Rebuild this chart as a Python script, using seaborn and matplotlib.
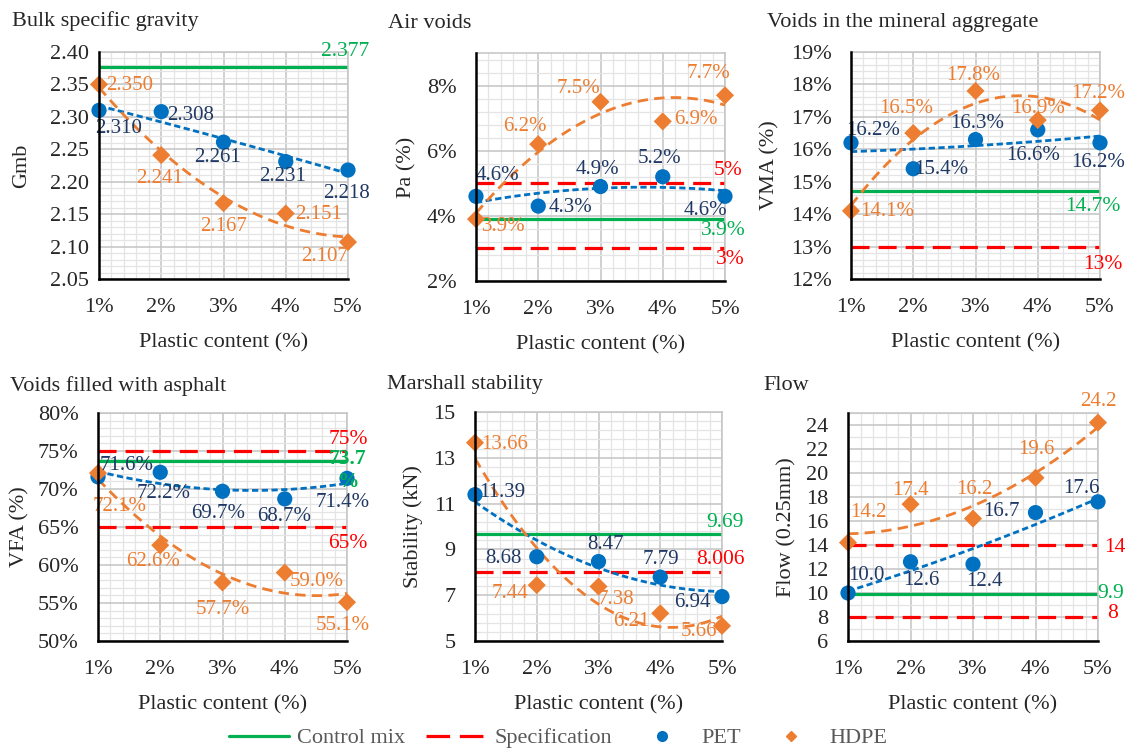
import numpy as np
import matplotlib
matplotlib.use("Agg")
import matplotlib.pyplot as plt
import seaborn as sns
from matplotlib.lines import Line2D
from matplotlib.ticker import FuncFormatter

# ---------------- data ----------------
plastic_content = [1, 2, 3, 4, 5]
x_tick_labels = ["1%", "2%", "3%", "4%", "5%"]

gmb_pet = [2.310, 2.308, 2.261, 2.231, 2.218]
gmb_hdpe = [2.350, 2.241, 2.167, 2.151, 2.107]
gmb_control = 2.377
gmb_spec = []

air_pet = [4.6, 4.3, 4.9, 5.2, 4.6]
air_hdpe = [3.9, 6.2, 7.5, 6.9, 7.7]
air_control = 3.9
air_spec = [5, 3]

vma_pet = [16.2, 15.4, 16.3, 16.6, 16.2]
vma_hdpe = [14.1, 16.5, 17.8, 16.9, 17.2]
vma_control = 14.7
vma_spec = [13]

vfa_pet = [71.6, 72.2, 69.7, 68.7, 71.4]
vfa_hdpe = [72.1, 62.6, 57.7, 59.0, 55.1]
vfa_control = 73.7
vfa_spec = [75, 65]

stab_pet = [11.39, 8.68, 8.47, 7.79, 6.94]
stab_hdpe = [13.66, 7.44, 7.38, 6.21, 5.66]
stab_control = 9.69
stab_spec = [8.006]

flow_pet = [10.0, 12.6, 12.4, 16.7, 17.6]
flow_hdpe = [14.2, 17.4, 16.2, 19.6, 24.2]
flow_control = 9.9
flow_spec = [14, 8]

titles = ["Bulk specific gravity", "Air voids", "Voids in the mineral aggregate",
          "Voids filled with asphalt", "Marshall stability", "Flow"]
ylabels = ["Gmb", "Pa (%)", "VMA (%)", "VFA (%)", "Stability (kN)", "Flow (0.25mm)"]
xlabel = "Plastic content (%)"
legend_labels = ["Control mix", "Specification", "PET", "HDPE"]

control_texts = ["2.377", "3.9%", "14.7%", "73.7\n%", "9.69", "9.9"]
spec_texts = [[], ["5%", "3%"], ["13%"], ["75%", "65%"], ["8.006"], ["14", "8"]]

# ---------------- style ----------------
C_PET = "#0070C0"
C_PET_LBL = "#1F3864"
C_HDPE = "#ED7D31"
C_GREEN = "#00B050"
C_RED = "#FF0000"

sns.set_theme(style="white")
plt.rcParams["font.family"] = ["Liberation Serif", "DejaVu Serif"]
plt.rcParams["font.size"] = 16
plt.rcParams["lines.scale_dashes"] = False

FS = 16
LBL_FS = 15

W, H = 1129, 751
fig = plt.figure(figsize=(W / 100, H / 100), dpi=100)

# panel layout (pixels): left, right, top, bottom
rects = [(99, 348, 52, 279), (476, 725, 53, 281), (851, 1100, 52, 279),
         (98, 347, 413, 641), (475, 722, 412, 641), (848, 1098, 413, 641)]
title_pos = [(12, 21), (388, 24), (767, 22), (10, 386), (387, 384), (763, 386)]
ylabel_x = [22, 407, 770, 20, 413, 787]
ytick_pad = [7, 14, 14, 14, 14, 14]

ylims = [(2.05, 2.40), (2, 9), (12, 19), (50, 80), (5, 15), (6, 25)]
major_steps = [0.05, 2, 1, 5, 2, 2]
minor_steps = [0.01, 0.4, 0.2, 1, 0.4, 1]
ytick_fmt = [lambda v: f"{v:.2f}", lambda v: f"{v:.0f}%", lambda v: f"{v:.0f}%",
             lambda v: f"{v:.0f}%", lambda v: f"{v:.0f}", lambda v: f"{v:.0f}"]
val_fmt = ["{:.3f}", "{:.1f}%", "{:.1f}%", "{:.1f}%", "{:.2f}", "{:.1f}"]

pets = [gmb_pet, air_pet, vma_pet, vfa_pet, stab_pet, flow_pet]
hdpes = [gmb_hdpe, air_hdpe, vma_hdpe, vfa_hdpe, stab_hdpe, flow_hdpe]
controls = [gmb_control, air_control, vma_control, vfa_control, stab_control, flow_control]
specs = [gmb_spec, air_spec, vma_spec, vfa_spec, stab_spec, flow_spec]

# label offsets in pixels (dx, dy up)
pet_off = [
    [(20, -18), (29, -4), (-6, -15), (-3, -15), (-2, -23)],
    [(21, 21), (32, -1), (-3, 17), (-3, 18), (-20, -14)],
    [(22, 12), (28, -1), (2, 16), (-5, -26), (-2, -20)],
    [(29, 11), (3, -21), (-4, -22), (-1, -18), (-4, -24)],
    [(27, 2), (-33, -2), (7, 17), (1, 18), (-30, -6)],
    [(18, 18), (11, -19), (11, -17), (-34, 1), (-17, 13)],
]
hdpe_off = [
    [(31, -1), (-2, -23), (0, -23), (33, -1), (-23, -14)],
    [(28, -7), (-13, 18), (-22, 13), (33, 2), (-17, 22)],
    [(36, -1), (-7, 25), (-2, 15), (0, 12), (-2, 17)],
    [(22, -33), (-7, -16), (0, -27), (32, -9), (-4, -23)],
    [(30, -2), (-27, -8), (17, -13), (-29, -8), (-23, -6)],
    [(20, 30), (0, 14), (1, 29), (1, 28), (0, 21)],
]
ctrl_off = [(-3, 15), (-2, -11), (-7, -15), (1, -10), (3, 11), (13, 1)]
ctrl_bold = [False, False, False, True, False, False]
spec_off = [[], [(3, 13), (5, -11)], [(3, -18)], [(1, 12), (1, -17)], [(-2, 13)], [(17, -2), (15, 4)]]

for i in range(6):
    l, r, t, b = rects[i]
    ax = fig.add_axes([l / W, 1 - b / H, (r - l) / W, (b - t) / H])
    x = np.array(plastic_content, dtype=float)

    # reference lines
    ax.axhline(controls[i], color=C_GREEN, lw=2.3, zorder=2)
    for s in specs[i]:
        ax.axhline(s, color=C_RED, lw=2.3, dashes=(13, 6.5), zorder=2)

    # trend lines (2nd-order polynomial fits)
    sns.regplot(x=x, y=np.array(pets[i]), order=2, ci=None, scatter=False, ax=ax,
                line_kws=dict(color=C_PET, lw=2.0, dashes=(4.5, 2.5), zorder=3))
    sns.regplot(x=x, y=np.array(hdpes[i]), order=2, ci=None, scatter=False, ax=ax,
                line_kws=dict(color=C_HDPE, lw=2.0, dashes=(7.5, 4.5), zorder=3))

    # markers
    sns.scatterplot(x=x, y=pets[i], ax=ax, marker="o", s=120, color=C_PET,
                    edgecolor="none", zorder=4, legend=False, clip_on=False)
    sns.scatterplot(x=x, y=hdpes[i], ax=ax, marker="D", s=85, color=C_HDPE,
                    edgecolor="none", zorder=4, legend=False, clip_on=False)

    # data labels
    for j in range(5):
        ax.annotate(val_fmt[i].format(pets[i][j]), (x[j], pets[i][j]),
                    xytext=pet_off[i][j], textcoords="offset pixels", ha="center",
                    va="center", color=C_PET_LBL, fontsize=LBL_FS, zorder=5,
                    annotation_clip=False)
        ax.annotate(val_fmt[i].format(hdpes[i][j]), (x[j], hdpes[i][j]),
                    xytext=hdpe_off[i][j], textcoords="offset pixels", ha="center",
                    va="center", color=C_HDPE, fontsize=LBL_FS, zorder=5,
                    annotation_clip=False)
    ax.annotate(control_texts[i], (5, controls[i]), xytext=ctrl_off[i],
                textcoords="offset pixels", ha="center", va="center", color=C_GREEN,
                fontsize=LBL_FS + 0.5, fontweight="bold" if ctrl_bold[i] else "normal",
                linespacing=1.2, zorder=5, annotation_clip=False)
    for s, txt, off in zip(specs[i], spec_texts[i], spec_off[i]):
        ax.annotate(txt, (5, s), xytext=off, textcoords="offset pixels", ha="center",
                    va="center", color=C_RED, fontsize=LBL_FS + 0.5, zorder=5,
                    annotation_clip=False)

    # axes
    lo, hi = ylims[i]
    ax.set_xlim(1, 5)
    ax.set_ylim(lo, hi)
    ax.set_xticks(plastic_content)
    ax.set_xticklabels(x_tick_labels)
    ax.set_xticks(np.arange(1, 5.0001, 0.2), minor=True)
    ax.set_yticks(np.arange(lo, hi + 1e-9, major_steps[i]))
    ax.set_yticks(np.arange(lo, hi + 1e-9, minor_steps[i]), minor=True)
    f = ytick_fmt[i]
    ax.yaxis.set_major_formatter(FuncFormatter(lambda v, p, f=f: f(v)))
    ax.tick_params(which="both", length=0)
    ax.tick_params(axis="x", pad=14, labelsize=FS)
    ax.tick_params(axis="y", pad=ytick_pad[i], labelsize=FS)
    ax.grid(which="minor", color="#E4E4E4", lw=0.9)
    ax.grid(which="major", color="#C4C4C4", lw=1.1)
    ax.set_axisbelow(True)
    for side in ("top", "right"):
        ax.spines[side].set_color("#C4C4C4")
        ax.spines[side].set_linewidth(1.1)
    for side in ("left", "bottom"):
        ax.spines[side].set_color("black")
        ax.spines[side].set_linewidth(1.8)
        ax.spines[side].set_zorder(6)

    ax.set_xlabel(xlabel, fontsize=FS)
    ax.xaxis.label.set_va("center")
    ax.xaxis.set_label_coords(0.5, -(64) / (b - t))
    ax.set_ylabel(ylabels[i], fontsize=FS)
    ax.yaxis.label.set_va("center")
    ax.yaxis.set_label_coords((ylabel_x[i] - l) / (r - l), 0.5)

    tx, ty = title_pos[i]
    fig.text(tx / W, 1 - ty / H, titles[i], ha="left", va="center", fontsize=FS)

# legend
handles = [
    Line2D([], [], color=C_GREEN, lw=2.3),
    Line2D([], [], color=C_RED, lw=2.3, dashes=(17, 7)),
    Line2D([], [], color=C_PET, marker="o", ls="none", markersize=7),
    Line2D([], [], color=C_HDPE, marker="D", ls="none", markersize=5.5),
]
leg = fig.legend(handles, legend_labels, loc="center", bbox_to_anchor=(558 / W, 13 / H),
                 ncol=4, frameon=False, fontsize=FS, handlelength=2.7,
                 handletextpad=0.4, columnspacing=0.9)
for t in leg.get_texts():
    t.set_color("#595959")

fig.savefig("out.png", dpi=100)
